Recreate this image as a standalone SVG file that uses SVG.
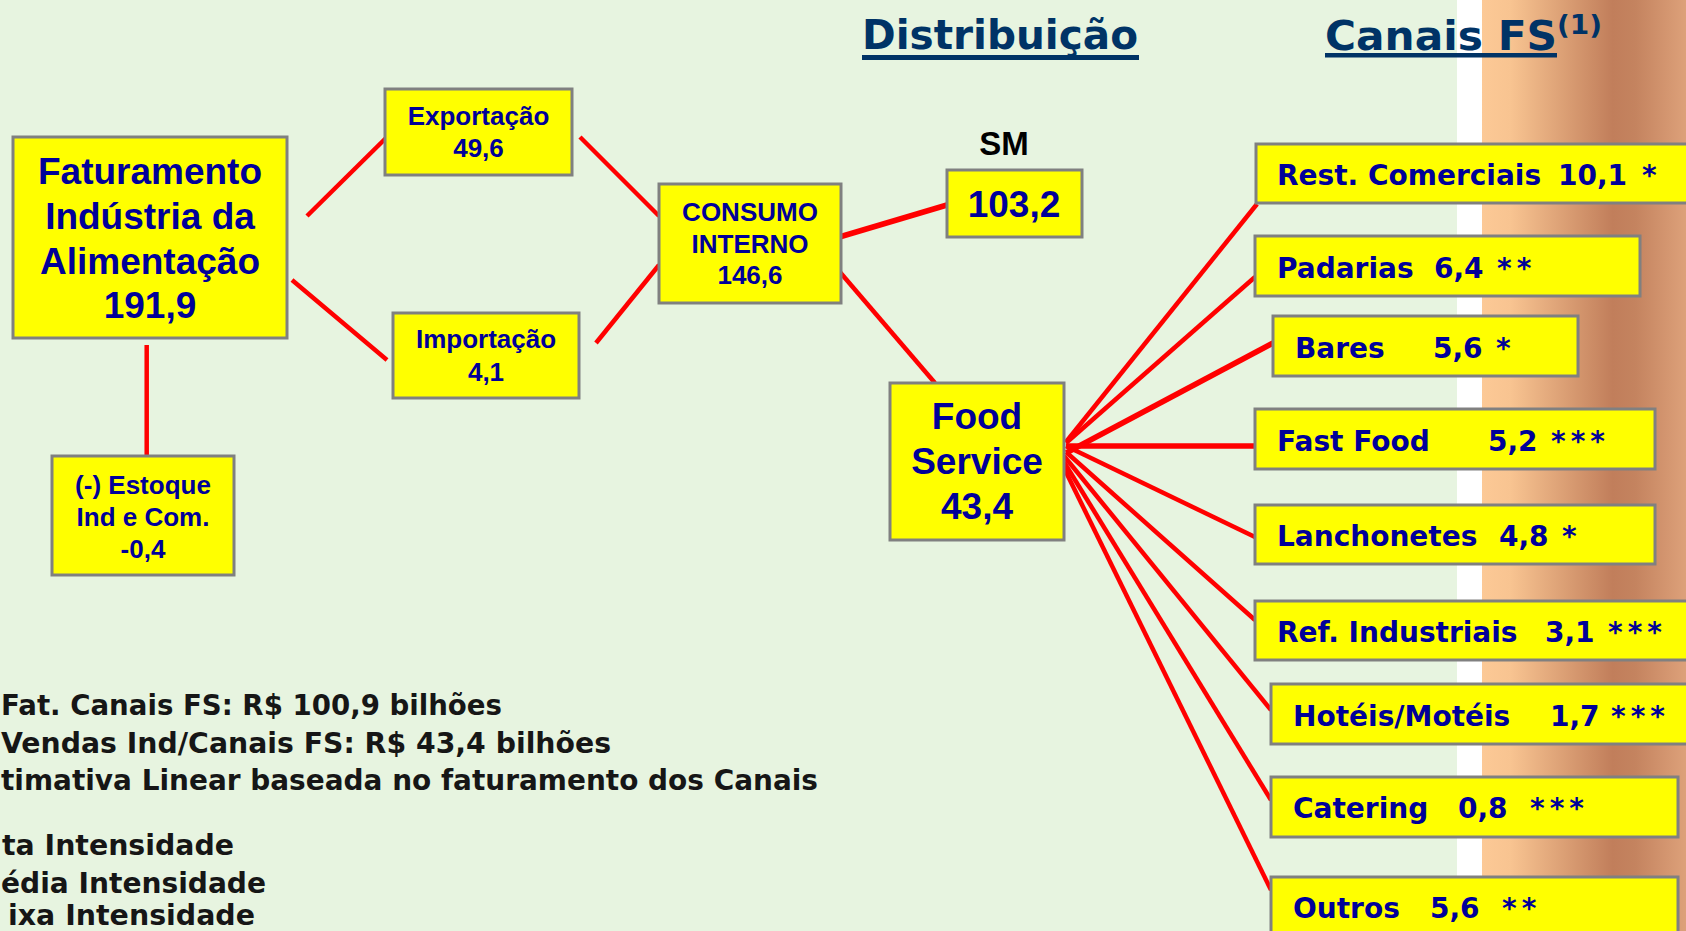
<svg xmlns="http://www.w3.org/2000/svg" width="1686" height="931" viewBox="0 0 1686 931">
<defs>
<style>
.box{fill:#FFFF00;stroke:#808080;stroke-width:3}
.nt{font-family:"Liberation Sans",Arial,sans-serif;font-weight:bold;fill:#000099;text-anchor:middle}
.ch{font-family:"DejaVu Sans",Verdana,sans-serif;font-weight:bold;fill:#000099;font-size:28px}
.st{letter-spacing:5px}
.ft{font-family:"DejaVu Sans",Verdana,sans-serif;font-weight:bold;fill:#161616;font-size:28px}
.ti{font-family:"DejaVu Sans",Verdana,sans-serif;font-weight:bold;fill:#003366}
.ln{stroke:#FF0000;stroke-width:4.5;fill:none}
.lnb{stroke:#FF0000;stroke-width:5.5;fill:none}
</style>
<linearGradient id="wood" gradientUnits="userSpaceOnUse" x1="1482" y1="0" x2="1686" y2="0">
<stop offset="0" stop-color="#FCC996"/>
<stop offset="0.14" stop-color="#F8C491"/>
<stop offset="0.64" stop-color="#C17E5B"/>
<stop offset="0.75" stop-color="#C4835F"/>
<stop offset="1" stop-color="#DDA17A"/>
</linearGradient>
</defs>
<rect x="0" y="0" width="1686" height="931" fill="#E7F4E0"/>
<rect x="1457" y="0" width="25" height="931" fill="#FFFFFF"/>
<rect x="1482" y="0" width="204" height="931" fill="url(#wood)"/>

<g id="titles">
<text class="ti" x="862" y="49" font-size="40" textLength="276" lengthAdjust="spacingAndGlyphs">Distribuição</text>
<rect x="862" y="55" width="277" height="5" fill="#003366"/>
<text class="ti" x="1325" y="50" font-size="41" textLength="232" lengthAdjust="spacingAndGlyphs">Canais FS</text>
<text class="ti" x="1557" y="34" font-size="26" textLength="45" lengthAdjust="spacingAndGlyphs">(1)</text>
<rect x="1325" y="53" width="232" height="4.5" fill="#003366"/>
</g>

<g id="connectors">
<line class="ln" x1="307" y1="216" x2="387" y2="137"/>
<line class="ln" x1="292" y1="280" x2="387" y2="360"/>
<line class="ln" x1="146.7" y1="345" x2="146.7" y2="456"/>
<line class="ln" x1="580" y1="137" x2="659" y2="216"/>
<line class="ln" x1="596" y1="343" x2="659" y2="265"/>
<line class="lnb" x1="836" y1="238" x2="947" y2="205"/>
<line class="ln" x1="839" y1="271" x2="935" y2="383"/>
<line class="ln" x1="1066" y1="442" x2="1257" y2="204"/>
<line class="ln" x1="1066" y1="443" x2="1255" y2="277"/>
<line class="lnb" x1="1066" y1="453" x2="1273" y2="343"/>
<line class="lnb" x1="1066" y1="446" x2="1255" y2="446"/>
<line class="ln" x1="1066" y1="446" x2="1255" y2="537"/>
<line class="ln" x1="1066" y1="452" x2="1255" y2="620"/>
<line class="ln" x1="1064" y1="456" x2="1271" y2="710"/>
<line class="ln" x1="1064" y1="462" x2="1271" y2="800"/>
<line class="ln" x1="1064" y1="468" x2="1271" y2="890"/>
</g>

<g id="node-faturamento">
<rect class="box" x="13" y="137" width="274" height="201"/>
<text class="nt" font-size="37"><tspan x="150" y="184">Faturamento</tspan><tspan x="150" y="229">Indústria da</tspan><tspan x="150" y="274">Alimentação</tspan><tspan x="150" y="318">191,9</tspan></text>
</g>
<g id="node-exportacao">
<rect class="box" x="385" y="89" width="187" height="86"/>
<text class="nt" font-size="26"><tspan x="478.5" y="125">Exportação</tspan><tspan x="478.5" y="157">49,6</tspan></text>
</g>
<g id="node-importacao">
<rect class="box" x="393" y="313" width="186" height="85"/>
<text class="nt" font-size="26"><tspan x="486" y="348">Importação</tspan><tspan x="486" y="381">4,1</tspan></text>
</g>
<g id="node-estoque">
<rect class="box" x="52" y="456" width="182" height="119"/>
<text class="nt" font-size="26"><tspan x="143" y="494">(-) Estoque</tspan><tspan x="143" y="526">Ind e Com.</tspan><tspan x="143" y="558">-0,4</tspan></text>
</g>
<g id="node-consumo">
<rect class="box" x="659" y="184" width="182" height="119"/>
<text class="nt" font-size="26"><tspan x="750" y="221">CONSUMO</tspan><tspan x="750" y="253">INTERNO</tspan><tspan x="750" y="284">146,6</tspan></text>
</g>
<g id="node-sm">
<text class="nt" font-size="33" x="1004" y="155" style="fill:#000000">SM</text>
<rect class="box" x="947" y="170" width="135" height="67"/>
<text class="nt" font-size="37" x="1014" y="217">103,2</text>
</g>
<g id="node-foodservice">
<rect class="box" x="890" y="383" width="174" height="157"/>
<text class="nt" font-size="37"><tspan x="977" y="429">Food</tspan><tspan x="977" y="474">Service</tspan><tspan x="977" y="519">43,4</tspan></text>
</g>

<g id="node-rest">
<rect class="box" x="1256" y="144" width="450" height="59"/>
<text class="ch" y="185"><tspan x="1277">Rest. Comerciais</tspan><tspan x="1558">10,1</tspan><tspan x="1642">*</tspan></text>
</g>
<g id="node-padarias">
<rect class="box" x="1255" y="236" width="385" height="60"/>
<text class="ch" y="278"><tspan x="1277">Padarias</tspan><tspan x="1434">6,4</tspan><tspan x="1497" class="st">**</tspan></text>
</g>
<g id="node-bares">
<rect class="box" x="1273" y="316" width="305" height="60"/>
<text class="ch" y="358"><tspan x="1295">Bares</tspan><tspan x="1433">5,6</tspan><tspan x="1496">*</tspan></text>
</g>
<g id="node-fastfood">
<rect class="box" x="1255" y="409" width="400" height="60"/>
<text class="ch" y="451"><tspan x="1277">Fast Food</tspan><tspan x="1488">5,2</tspan><tspan x="1551" class="st">***</tspan></text>
</g>
<g id="node-lanchonetes">
<rect class="box" x="1255" y="505" width="400" height="59"/>
<text class="ch" y="546"><tspan x="1277">Lanchonetes</tspan><tspan x="1499">4,8</tspan><tspan x="1562">*</tspan></text>
</g>
<g id="node-ref">
<rect class="box" x="1255" y="601" width="450" height="59"/>
<text class="ch" y="642"><tspan x="1277">Ref. Industriais</tspan><tspan x="1545">3,1</tspan><tspan x="1608" class="st">***</tspan></text>
</g>
<g id="node-hoteis">
<rect class="box" x="1271" y="684" width="450" height="60"/>
<text class="ch" y="726"><tspan x="1293">Hotéis/Motéis</tspan><tspan x="1550">1,7</tspan><tspan x="1611" class="st">***</tspan></text>
</g>
<g id="node-catering">
<rect class="box" x="1271" y="777" width="407" height="60"/>
<text class="ch" y="818"><tspan x="1293">Catering</tspan><tspan x="1458">0,8</tspan><tspan x="1530" class="st">***</tspan></text>
</g>
<g id="node-outros">
<rect class="box" x="1271" y="877" width="407" height="80"/>
<text class="ch" y="918"><tspan x="1293">Outros</tspan><tspan x="1430">5,6</tspan><tspan x="1502" class="st">**</tspan></text>
</g>

<g id="footnotes">
<text class="ft" x="1" y="715" textLength="501" lengthAdjust="spacingAndGlyphs">Fat. Canais FS: R$ 100,9 bilhões</text>
<text class="ft" x="1" y="753" textLength="610" lengthAdjust="spacingAndGlyphs">Vendas Ind/Canais FS: R$ 43,4 bilhões</text>
<text class="ft" x="1" y="790" textLength="817" lengthAdjust="spacingAndGlyphs">timativa Linear baseada no faturamento dos Canais</text>
<text class="ft" x="2" y="855" textLength="232" lengthAdjust="spacingAndGlyphs">ta Intensidade</text>
<text class="ft" x="1" y="893" textLength="265" lengthAdjust="spacingAndGlyphs">édia Intensidade</text>
<text class="ft" x="8" y="925" textLength="247" lengthAdjust="spacingAndGlyphs">ixa Intensidade</text>
</g>
</svg>
